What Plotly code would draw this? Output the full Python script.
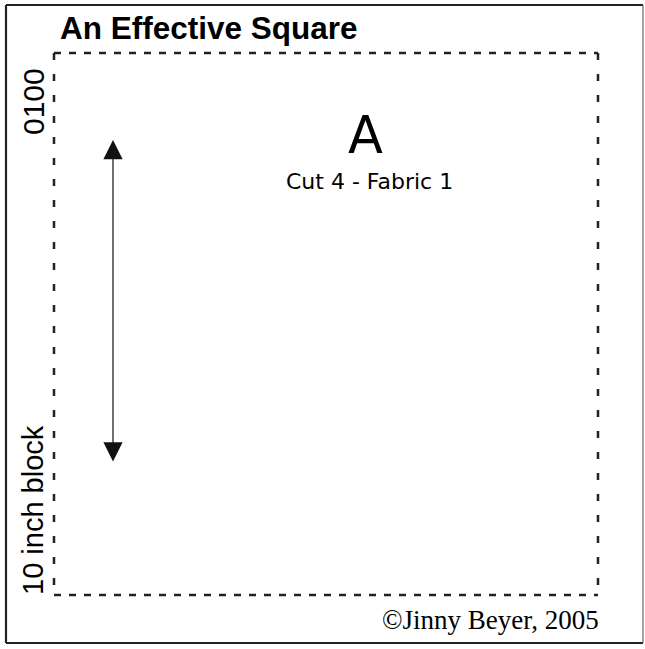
import plotly.graph_objects as go

# ---- content ----
title_text = "An Effective Square"
piece_label = "A"
cut_text = "Cut 4 - Fabric 1"
side_top_text = "0100"
side_bottom_text = "10 inch block"
credit_text = "©Jinny Beyer, 2005"

# ---- geometry (page pixels) ----
W, H = 645, 649
frame_x = [6, 643]
frame_y = [5, 643]
block_x = [54, 598]
block_y = [53, 595]
grain_x = [113]
grain_y = [140, 463]

fig = go.Figure()
fig.add_trace(go.Scatter(x=[0, W], y=[0, H], mode="markers",
                         marker=dict(opacity=0), hoverinfo="skip", showlegend=False))

shapes = []
dark = "#222222"
shapes.append(dict(type="line", x0=frame_x[0], x1=frame_x[1], y0=frame_y[0], y1=frame_y[0],
                   line=dict(color=dark, width=2.2)))
shapes.append(dict(type="line", x0=frame_x[0], x1=frame_x[1], y0=frame_y[1], y1=frame_y[1],
                   line=dict(color=dark, width=2.2)))
shapes.append(dict(type="line", x0=frame_x[0], x1=frame_x[0], y0=frame_y[0], y1=frame_y[1],
                   line=dict(color=dark, width=2.2)))
shapes.append(dict(type="line", x0=frame_x[1], x1=frame_x[1], y0=frame_y[0], y1=frame_y[1],
                   line=dict(color="#666666", width=1.2)))
hdash = "7px,8px"
vdash = "7px,14px"
for yy in block_y:
    shapes.append(dict(type="line", x0=block_x[0], x1=block_x[1], y0=yy, y1=yy,
                       line=dict(color=dark, width=2.5, dash=hdash)))
for xx in block_x:
    shapes.append(dict(type="line", x0=xx, x1=xx, y0=block_y[0], y1=block_y[1],
                       line=dict(color=dark, width=2.5, dash=vdash)))

annotations = [
    dict(x=58, y=28, text="<b>" + title_text + "</b>", showarrow=False,
         xanchor="left", yanchor="middle",
         font=dict(family="Liberation Sans", size=31.5, color="#000")),
    dict(x=365, y=135, text=piece_label, showarrow=False,
         xanchor="center", yanchor="middle",
         font=dict(family="DejaVu Sans", size=51, color="#000")),
    dict(x=369, y=181, text=cut_text, showarrow=False,
         xanchor="center", yanchor="middle",
         font=dict(family="DejaVu Sans", size=22, color="#000")),
    dict(x=33, y=102, text=side_top_text, showarrow=False, textangle=-90,
         xanchor="center", yanchor="middle",
         font=dict(family="Liberation Sans", size=30, color="#000")),
    dict(x=33, y=510, text=side_bottom_text, showarrow=False, textangle=-90,
         xanchor="center", yanchor="middle",
         font=dict(family="Liberation Sans", size=29, color="#000")),
    dict(x=601, y=620, text=credit_text, showarrow=False,
         xanchor="right", yanchor="middle",
         font=dict(family="Liberation Serif", size=27, color="#000")),
    dict(x=grain_x[0], y=grain_y[0], ax=grain_x[0], ay=grain_y[1],
         xref="x", yref="y", axref="x", ayref="y", text="",
         showarrow=True, arrowhead=2, startarrowhead=2, arrowside="end+start",
         arrowsize=3.2, startarrowsize=3.2, arrowwidth=1.2, arrowcolor="#111111",
         standoff=0, startstandoff=0),
]

fig.update_layout(
    width=W, height=H,
    margin=dict(l=0, r=0, t=0, b=0),
    paper_bgcolor="white", plot_bgcolor="white",
    xaxis=dict(range=[0, W], visible=False, fixedrange=True),
    yaxis=dict(range=[H, 0], visible=False, fixedrange=True),
    shapes=shapes, annotations=annotations, showlegend=False,
)

fig.write_html("out.html", config={"displayModeBar": False},
               post_script="document.body.style.margin='0';document.body.style.overflow='hidden';")
